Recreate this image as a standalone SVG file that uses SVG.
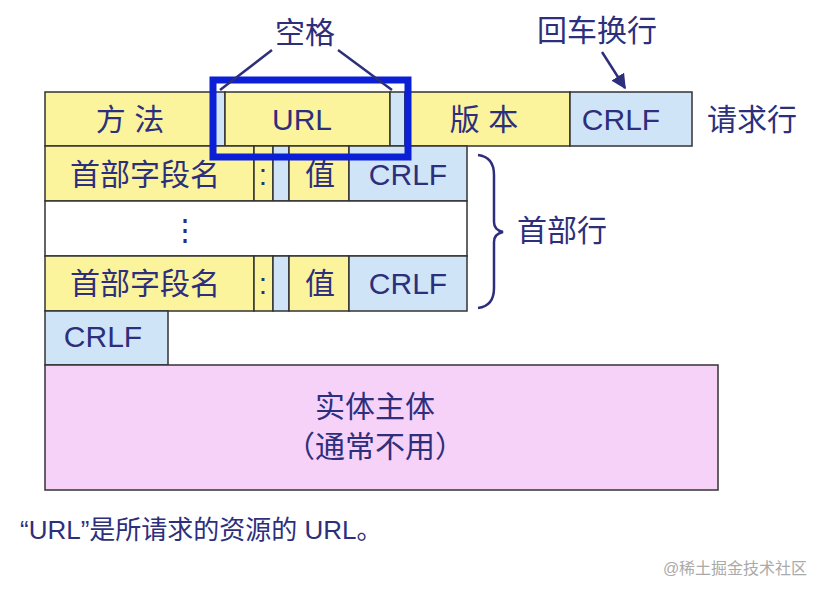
<svg xmlns="http://www.w3.org/2000/svg" width="832" height="596" viewBox="0 0 832 596">
<style>
text{font-family:"Liberation Sans","Noto Sans CJK SC",sans-serif;fill:#2e2f7c;font-size:30px;text-anchor:middle;dominant-baseline:central}
.y{fill:#fbf49c;stroke:#333;stroke-width:1.5}
.b{fill:#cfe4f7;stroke:#333;stroke-width:1.5}
.w{fill:#fff;stroke:#333;stroke-width:1.5}
.p{fill:#f7d2f8;stroke:#333;stroke-width:1.5}
.l{stroke:#2e2f7c;stroke-width:2.5;fill:none}
</style>
<defs><marker id="a" viewBox="0 0 10 10" refX="9" refY="5" markerWidth="6" markerHeight="6" orient="auto"><path d="M0,0L10,5L0,10z" fill="#2e2f7c"/></marker></defs>
<rect width="832" height="596" fill="#fff"/>
<g id="row1">
<rect class="y" x="45" y="92" width="168" height="54"/><text x="130" y="119">方  法</text>
<rect class="b" x="213" y="92" width="12" height="54"/>
<rect class="y" x="225" y="92" width="165" height="54"/><text x="302" y="119">URL</text>
<rect class="b" x="390" y="92" width="15" height="54"/>
<rect class="y" x="405" y="92" width="165" height="54"/><text x="484" y="119">版  本</text>
<rect class="b" x="570" y="92" width="122" height="54"/><text x="621" y="119">CRLF</text>
<text x="752" y="119">请求行</text>
</g>
<g id="row2">
<rect class="y" x="45" y="146" width="209" height="55"/><text x="145" y="174">首部字段名</text>
<rect class="y" x="254" y="146" width="19" height="55"/><text x="263" y="174">:</text>
<rect class="b" x="273" y="146" width="16" height="55"/>
<rect class="y" x="289" y="146" width="60" height="55"/><text x="320" y="174">值</text>
<rect class="b" x="349" y="146" width="118" height="55"/><text x="408" y="174">CRLF</text>
</g>
<g id="row3">
<rect class="w" x="45" y="201" width="422" height="55"/><text x="185" y="229">⋮</text>
</g>
<g id="row4">
<rect class="y" x="45" y="256" width="209" height="55"/><text x="145" y="283">首部字段名</text>
<rect class="y" x="254" y="256" width="19" height="55"/><text x="263" y="283">:</text>
<rect class="b" x="273" y="256" width="16" height="55"/>
<rect class="y" x="289" y="256" width="60" height="55"/><text x="320" y="283">值</text>
<rect class="b" x="349" y="256" width="118" height="55"/><text x="408" y="283">CRLF</text>
</g>
<g id="row5">
<rect class="b" x="45" y="311" width="123" height="54"/><text x="103" y="336">CRLF</text>
</g>
<g id="body">
<rect class="p" x="45" y="365" width="673" height="125"/>
<text x="375" y="406">实体主体</text><text x="375" y="446">（通常不用）</text>
</g>
<g id="labels">
<text x="305" y="32">空格</text>
<text x="597" y="30">回车换行</text>
<text x="562" y="230">首部行</text>
<text x="20" y="530" style="text-anchor:start;font-size:26px">“URL”是所请求的资源的 URL。</text>
<text x="735" y="568" style="font-size:16px;fill:#aaa">@稀土掘金技术社区</text>
</g>
<g id="connectors">
<rect x="213" y="80" width="195" height="77" fill="none" stroke="#0a1fd6" stroke-width="7"/>
<path class="l" d="M272,50L220,90M338,50L392,90"/>
<path class="l" d="M602,52L625,88" marker-end="url(#a)"/>
<path class="l" d="M478,155Q494,157 494,175V222Q494,230 503,232Q494,234 494,242V288Q494,306 478,308"/>
</g>
</svg>
